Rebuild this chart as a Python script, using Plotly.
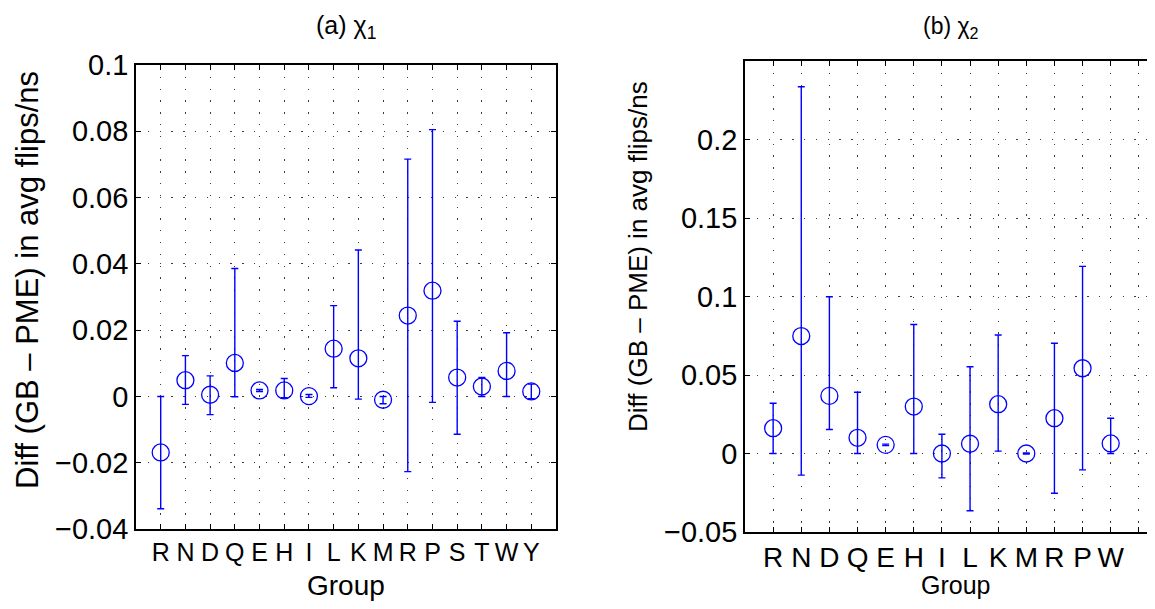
import plotly.graph_objects as go

# ---------------- data ----------------
groups_a = ["R", "N", "D", "Q", "E", "H", "I", "L", "K", "M", "R", "P", "S", "T", "W", "Y"]
mean_a = [-0.0169, 0.0049, 0.0005, 0.0101, 0.0018, 0.0018, 0.0001, 0.0144, 0.0115, -0.0010,
          0.0244, 0.0319, 0.0057, 0.0030, 0.0077, 0.0015]
upper_a = [0.0000, 0.0123, 0.0062, 0.0386, 0.0021, 0.0054, 0.0006, 0.0274, 0.0442, 0.0000,
           0.0716, 0.0805, 0.0227, 0.0057, 0.0192, 0.0037]
lower_a = [-0.0339, -0.0024, -0.0055, -0.0001, 0.0015, -0.0004, -0.0003, 0.0026, -0.0008, -0.0022,
           -0.0227, -0.0018, -0.0114, 0.0000, 0.0000, -0.0007]

groups_b = ["R", "N", "D", "Q", "E", "H", "I", "L", "K", "M", "R", "P", "W"]
mean_b = [0.0161, 0.0748, 0.0367, 0.0100, 0.0055, 0.0299, 0.0000, 0.0062, 0.0314, 0.0000,
          0.0225, 0.0543, 0.0064]
upper_b = [0.0320, 0.2336, 0.0998, 0.0390, 0.0060, 0.0822, 0.0123, 0.0553, 0.0755, 0.0003,
           0.0702, 0.1192, 0.0225]
lower_b = [0.0000, -0.0138, 0.0153, 0.0000, 0.0050, 0.0000, -0.0155, -0.0365, 0.0015, -0.0003,
           -0.0253, -0.0104, 0.0000]

yticks_a = [-0.04, -0.02, 0, 0.02, 0.04, 0.06, 0.08, 0.1]
yticktext_a = ["\u22120.04", "\u22120.02", "0", "0.02", "0.04", "0.06", "0.08", "0.1"]
yticks_b = [-0.05, 0, 0.05, 0.1, 0.15, 0.2]
yticktext_b = ["\u22120.05", "0", "0.05", "0.1", "0.15", "0.2"]

title_a = "(a) \u03c7<sub>1</sub>"
title_b = "(b) \u03c7<sub>2</sub>"
xlabel = "Group"
ylabel = "Diff (GB \u2013 PME) in avg flips/ns"

BLUE = "rgb(0,0,255)"
FONT = "Liberation Sans, Arial, sans-serif"

# page body has an 8px margin; compensate so that pixel coords refer to the window
OFF = 8
W, H = 1155 - OFF, 609 - OFF


def px(x):
    return (x - OFF) / W


def py(y):
    return 1 - (y - OFF) / H


fig = go.Figure()


def add_series(xs, mean, upper, lower, xa, ya):
    fig.add_trace(go.Scatter(
        x=xs, y=mean, mode="markers", xaxis=xa, yaxis=ya,
        marker=dict(symbol="circle-open", size=17, color=BLUE, line=dict(width=1.3, color=BLUE)),
        error_y=dict(type="data", symmetric=False,
                     array=[u - m for u, m in zip(upper, mean)],
                     arrayminus=[m - l for m, l in zip(mean, lower)],
                     color=BLUE, thickness=1.4, width=3.5),
        showlegend=False, cliponaxis=False,
    ))


xs_a = list(range(1, len(groups_a) + 1))
xs_b = list(range(1, len(groups_b) + 1))
add_series(xs_a, mean_a, upper_a, lower_a, "x", "y")
add_series(xs_b, mean_b, upper_b, lower_b, "x2", "y2")

grid = dict(showgrid=True, gridcolor="rgb(60,60,60)", gridwidth=1, griddash="1.3px,10.5px")
common = dict(showline=True, linecolor="black", linewidth=1.6, ticks="inside", ticklen=5,
              tickcolor="black", tickwidth=1, zeroline=False, automargin=False, **grid)

la_l, la_r, la_t, la_b = 136, 556, 65, 529
rb_l, rb_r, rb_t, rb_b = 745, 1155, 61, 532
tick_sp_b = 28.13

fig.update_layout(
    width=W, height=H, margin=dict(l=0, r=0, t=0, b=0, autoexpand=False),
    paper_bgcolor="white", plot_bgcolor="white",
    font=dict(family=FONT, color="black", size=28),
    xaxis=dict(domain=[px(la_l), px(la_r)], range=[0, 17], anchor="y",
               tickmode="array", tickvals=xs_a, ticktext=groups_a, mirror="ticks",
               tickangle=0, tickfont=dict(size=25), **common),
    yaxis=dict(domain=[py(la_b), py(la_t)], range=[-0.04, 0.1], anchor="x",
               tickmode="array", tickvals=yticks_a, ticktext=yticktext_a, mirror="ticks",
               tickfont=dict(size=29), **common),
    xaxis2=dict(domain=[px(rb_l), px(rb_r)], range=[0, (rb_r - rb_l) / tick_sp_b], anchor="y2",
                tickmode="array", tickvals=list(range(1, 15)), ticktext=groups_b + [""],
                mirror="ticks", tickangle=0, tickfont=dict(size=28), **common),
    yaxis2=dict(domain=[py(rb_b), py(rb_t)], range=[-0.05, 0.25], anchor="x2",
                tickmode="array", tickvals=yticks_b, ticktext=yticktext_b, mirror=False,
                tickfont=dict(size=29), **common),
)

ann = [
    dict(text=title_a, x=px(346), y=py(27), font=dict(size=25)),
    dict(text=title_b, x=px(951), y=py(28), font=dict(size=23)),
    dict(text=xlabel, x=px(346), y=py(585), font=dict(size=28)),
    dict(text=xlabel, x=px(955), y=py(585), font=dict(size=25)),
    dict(text=ylabel, x=px(27), y=py(280), textangle=-90, font=dict(size=31)),
    dict(text=ylabel, x=px(638), y=py(257), textangle=-90, font=dict(size=26)),
]
for a in ann:
    a.update(xref="paper", yref="paper", showarrow=False, xanchor="center", yanchor="middle")
fig.update_layout(annotations=ann)

fig.write_html("out.html")
